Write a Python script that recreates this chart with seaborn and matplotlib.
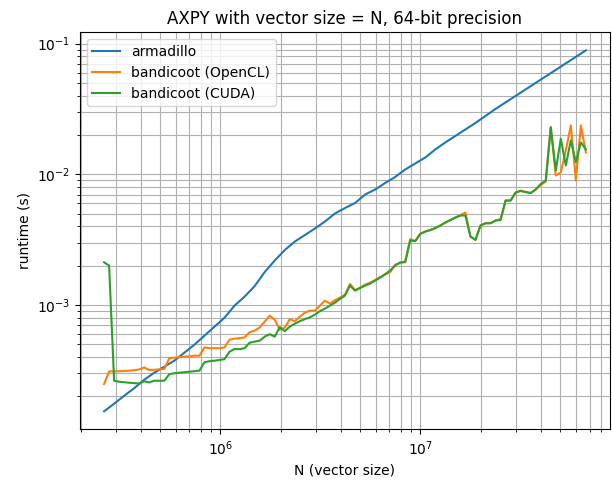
import pandas as pd
import numpy as np
from matplotlib import pyplot as plt
import seaborn as sns

# vector sizes (2^18 ... 2^26)
N = [262144, 277731, 294247, 311744, 330281, 349920, 370728, 392772, 416128, 440872,
     467088, 494862, 524288, 555462, 588493, 623487, 660561, 699841, 741455, 785544,
     832255, 881744, 934176, 989724, 1048576, 1110925, 1176986, 1246974, 1321123, 1399681,
     1482910, 1571089, 1664511, 1763487, 1868353, 1979449, 2097152, 2221850, 2353973, 2493948,
     2642246, 2799362, 2965821, 3142178, 3329021, 3526975, 3736706, 3958899, 4194304, 4443701,
     4707947, 4987896, 5284492, 5598724, 5931642, 6284356, 6658043, 7053950, 7473412, 7917797,
     8388608, 8887402, 9415894, 9975792, 10568984, 11197448, 11863284, 12568712, 13316085, 14107900,
     14946825, 15835594, 16777216, 17774804, 18831788, 19951584, 21137968, 22394896, 23726568, 25137424,
     26632170, 28215800, 29893650, 31671188, 33554432, 35549608, 37663576, 39903168, 42275936, 44789792,
     47453136, 50274848, 53264340, 56431600, 59787300, 63342376, 67108864]

# runtimes in seconds
armadillo = [1.535e-4, 1.753e-4, 2.018e-4, 2.304e-4, 2.677e-4, 3.028e-4, 3.367e-4, 3.743e-4, 4.309e-4, 4.964e-4,
             5.817e-4, 6.817e-4, 7.993e-4, 9.877e-4, 1.158e-3, 1.393e-3, 1.784e-3, 2.185e-3, 2.630e-3, 3.055e-3,
             3.427e-3, 3.844e-3, 4.348e-3, 5.008e-3, 5.518e-3, 6.026e-3, 6.999e-3, 7.647e-3, 8.576e-3, 9.535e-3,
             1.088e-2, 1.210e-2, 1.345e-2, 1.549e-2, 1.753e-2, 1.966e-2, 2.204e-2, 2.471e-2, 2.797e-2, 3.165e-2,
             3.549e-2, 3.980e-2, 4.465e-2, 5.008e-2, 5.617e-2, 6.297e-2, 7.063e-2, 7.923e-2, 8.886e-2]

opencl = [2.48e-4, 3.10e-4, 3.10e-4, 3.11e-4, 3.12e-4, 3.14e-4, 3.165e-4, 3.21e-4, 3.325e-4, 3.176e-4,
          3.193e-4, 3.21e-4, 3.233e-4, 3.925e-4, 3.946e-4, 3.98e-4, 4.017e-4, 4.038e-4, 4.088e-4, 4.088e-4,
          4.732e-4, 4.667e-4, 4.667e-4, 4.667e-4, 4.732e-4, 5.421e-4, 5.518e-4, 5.566e-4, 5.645e-4, 6.188e-4,
          6.354e-4, 6.734e-4, 7.447e-4, 8.279e-4, 7.714e-4, 6.467e-4, 6.699e-4, 7.782e-4, 7.51e-4, 8.135e-4,
          8.73e-4, 9.044e-4, 9.044e-4, 9.877e-4, 1.078e-3, 1.023e-3, 1.088e-3, 1.138e-3, 1.20e-3, 1.448e-3,
          1.298e-3, 1.357e-3, 1.431e-3, 1.482e-3, 1.549e-3, 1.633e-3, 1.707e-3, 1.784e-3, 2.036e-3, 2.09e-3,
          2.158e-3, 3.193e-3, 3.083e-3, 3.50e-3, 3.645e-3, 3.743e-3, 3.877e-3, 4.053e-3, 4.273e-3, 4.465e-3,
          4.667e-3, 4.877e-3, 5.097e-3, 3.337e-3, 3.148e-3, 4.053e-3, 4.22e-3, 4.22e-3, 4.426e-3, 4.545e-3,
          6.297e-3, 6.297e-3, 7.252e-3, 7.51e-3, 7.317e-3, 7.19e-3, 7.647e-3, 8.279e-3, 8.807e-3, 2.284e-2,
          9.79e-3, 1.032e-2, 1.522e-2, 2.366e-2, 8.96e-3, 2.366e-2, 1.469e-2]

cuda = [2.12e-3, 2.00e-3, 2.63e-4, 2.584e-4, 2.561e-4, 2.539e-4, 2.517e-4, 2.508e-4, 2.607e-4, 2.552e-4,
        2.63e-4, 2.63e-4, 2.63e-4, 2.949e-4, 3.002e-4, 3.028e-4, 3.055e-4, 3.083e-4, 3.11e-4, 3.14e-4,
        3.645e-4, 3.71e-4, 3.743e-4, 3.79e-4, 3.844e-4, 4.386e-4, 4.60e-4, 4.584e-4, 4.667e-4, 5.142e-4,
        5.234e-4, 5.327e-4, 5.716e-4, 5.973e-4, 5.716e-4, 6.757e-4, 6.297e-4, 6.817e-4, 7.19e-4, 7.51e-4,
        7.782e-4, 8.035e-4, 8.425e-4, 8.962e-4, 9.367e-4, 9.877e-4, 1.041e-3, 1.112e-3, 1.179e-3, 1.405e-3,
        1.287e-3, 1.345e-3, 1.405e-3, 1.456e-3, 1.535e-3, 1.618e-3, 1.722e-3, 1.832e-3, 2.00e-3, 2.121e-3,
        2.121e-3, 3.11e-3, 3.083e-3, 3.50e-3, 3.645e-3, 3.743e-3, 3.877e-3, 4.053e-3, 4.273e-3, 4.465e-3,
        4.667e-3, 4.834e-3, 4.834e-3, 3.337e-3, 3.148e-3, 4.053e-3, 4.22e-3, 4.22e-3, 4.426e-3, 4.465e-3,
        6.297e-3, 6.297e-3, 7.252e-3, 7.447e-3, 7.317e-3, 7.19e-3, 7.647e-3, 8.425e-3, 8.962e-3, 2.296e-2,
        1.069e-2, 1.871e-2, 1.168e-2, 1.816e-2, 1.238e-2, 1.753e-2, 1.549e-2]

labels = ['armadillo', 'bandicoot (OpenCL)', 'bandicoot (CUDA)']

df = pd.concat([
    pd.DataFrame({'N': N[::2], 'runtime': armadillo, 'library': labels[0]}),
    pd.DataFrame({'N': N, 'runtime': opencl, 'library': labels[1]}),
    pd.DataFrame({'N': N, 'runtime': cuda, 'library': labels[2]}),
])

fig = plt.figure(figsize=(6.12, 4.82), dpi=100)
ax = fig.add_axes([0.1307, 0.1093, 0.8660, 0.8237])

sns.lineplot(data=df, x='N', y='runtime', hue='library', hue_order=labels,
             palette=['#1f77b4', '#ff7f0e', '#2ca02c'], linewidth=1.5, ax=ax)

ax.set_xscale('log')
ax.set_yscale('log')
ax.grid(True, which='both')
ax.set_xlabel("N (vector size)")
ax.set_ylabel("runtime (s)")
ax.set_title("AXPY with vector size = N, 64-bit precision")
ax.legend(loc='upper left')

fig.savefig('out.png')
